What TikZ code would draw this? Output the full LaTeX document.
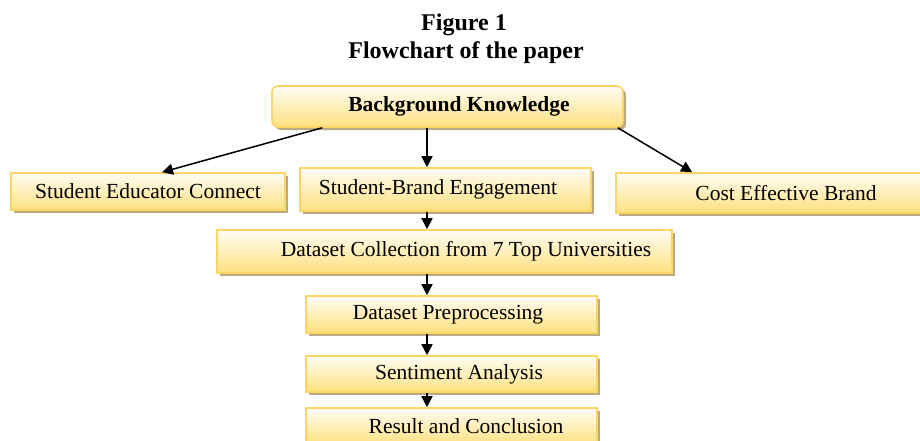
\documentclass[tikz,border=0pt]{standalone}
\usepackage{fontspec}
\setmainfont{Liberation Serif}
\usetikzlibrary{arrows.meta,shadows,calc}
\definecolor{boxedge}{RGB}{252,214,100}
\definecolor{boxtop}{RGB}{255,253,244}
\definecolor{boxbottom}{RGB}{255,224,128}
\definecolor{boxshadow}{RGB}{185,170,128}

\begin{document}
\begin{tikzpicture}[x=1pt,y=-1pt,
  box/.style={draw=boxedge, line width=1.6pt,
    top color=boxtop, bottom color=boxbottom,
    drop shadow={shadow xshift=3pt, shadow yshift=-3pt, fill=boxshadow, opacity=1},
    inner sep=0pt, font=\fontsize{21.5}{25}\selectfont},
  titletext/.style={font=\bfseries\fontsize{24}{28}\selectfont, anchor=base},
  arr/.style={line width=1.5pt, -{Triangle[length=11pt,width=11pt]}}]
  \useasboundingbox (0,0) rectangle (920,441);

  % caption
  \node[titletext] (fig) at (464,31) {Figure 1};
  \node[titletext] (cap) at (466,59) {Flowchart of the paper};

  % boxes
  \node[box, rounded corners=6pt, minimum width=351pt, minimum height=41pt,
        font=\bfseries\fontsize{21.5}{25}\selectfont]
        (bk) at (447.5,106.5) {\hspace*{23pt}Background Knowledge};
  \node[box, minimum width=274pt, minimum height=37pt]
        (sec) at (148,191.5) {Student Educator Connect};
  \node[box, minimum width=291pt, minimum height=43pt]
        (sbe) at (445.5,189.5) {\hspace*{-15pt}Student-Brand Engagement};
  \node[box, minimum width=314pt, minimum height=40pt]
        (ceb) at (773,193) {\hspace*{26pt}Cost Effective Brand};
  \node[box, minimum width=455pt, minimum height=43pt]
        (dc) at (444.5,251.5) {\hspace*{43pt}Dataset Collection from 7 Top Universities};
  \node[box, minimum width=291pt, minimum height=37pt]
        (dp) at (451.5,314.5) {\hspace*{-7pt}Dataset Preprocessing};
  \node[box, minimum width=291pt, minimum height=36pt]
        (sa) at (451.5,374) {\hspace*{15pt}Sentiment Analysis};
  \node[box, minimum width=291pt, minimum height=37pt]
        (rc) at (451.5,426.5) {\hspace*{29pt}Result and Conclusion};

  % connectors
  \coordinate (col) at (427,0);
  \draw[arr] ($(bk.south west)+(51,0)$) -- ($(sec.north)+(14,0)$);
  \draw[arr] ($(bk.south east)+(-6,0)$) -- ($(ceb.north west)+(77,0)$);
  \draw[arr] (bk.south -| col) -- (sbe.north -| col);
  \draw[arr] (sbe.south -| col) -- (dc.north -| col);
  \draw[arr] (dc.south -| col) -- (dp.north -| col);
  \draw[arr] (dp.south -| col) -- (sa.north -| col);
  \draw[arr] (sa.south -| col) -- (rc.north -| col);
\end{tikzpicture}
\end{document}
